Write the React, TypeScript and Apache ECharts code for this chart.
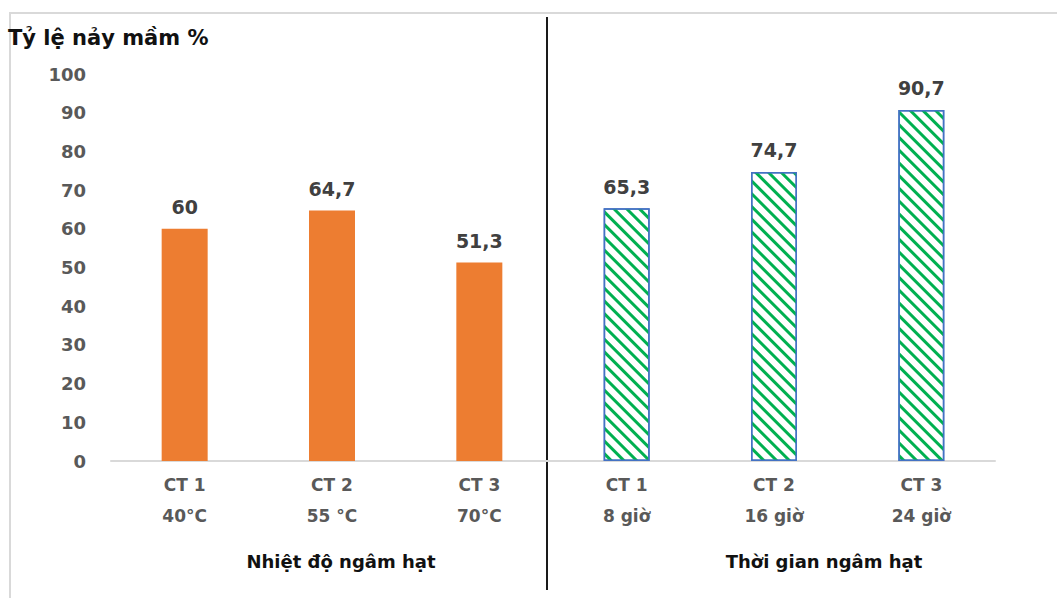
import React, { useEffect, useRef } from "react";
import * as echarts from "echarts";

const categories = ["CT 1\n40°C", "CT 2\n55 °C", "CT 3\n70°C", "CT 1\n8 giờ", "CT 2\n16 giờ", "CT 3\n24 giờ"];
const groupLabels = ["Nhiệt độ ngâm hạt", "Thời gian ngâm hạt"];
const temperatureValues: (number | string)[] = [60, 64.7, 51.3, "-", "-", "-"];
const timeValues: (number | string)[] = ["-", "-", "-", 65.3, 74.7, 90.7];
const yTitle = "Tỷ lệ nảy mầm %";

const FONT = "'DejaVu Sans', sans-serif";

export default function App() {
  const ref = useRef<HTMLDivElement>(null);
  useEffect(() => {
    document.body.style.margin = "0";
    const chart = echarts.init(ref.current!, null, { renderer: "svg" });
    const label = {
      show: true,
      position: "top",
      distance: 12,
      fontFamily: FONT,
      fontWeight: "bold",
      fontSize: 19,
      color: "#404040",
      formatter: (p: any) => String(p.value).replace(".", ","),
    };
    const groupText = (text: string, x: number) => ({
      type: "text",
      x,
      y: 561,
      style: {
        text,
        fontFamily: FONT,
        fontWeight: "bold",
        fontSize: 18,
        fill: "#111",
        align: "center",
        verticalAlign: "middle",
      },
    });
    chart.setOption({
      animation: false,
      backgroundColor: "#fff",
      grid: { left: 111, right: 62, top: 74, bottom: 137, containLabel: false },
      xAxis: {
        type: "category",
        data: categories,
        axisLine: { show: true, lineStyle: { color: "#d9d9d9", width: 2 } },
        axisTick: { show: false },
        axisLabel: {
          interval: 0,
          margin: 8,
          fontFamily: FONT,
          fontWeight: "bold",
          fontSize: 17,
          lineHeight: 31,
          color: "#595959",
        },
      },
      yAxis: {
        type: "value",
        min: 0,
        max: 100,
        interval: 10,
        axisLine: { show: false },
        axisTick: { show: false },
        splitLine: { show: false },
        axisLabel: {
          margin: 25,
          fontFamily: FONT,
          fontWeight: "bold",
          fontSize: 18,
          color: "#595959",
        },
      },
      series: [
        {
          type: "bar",
          data: temperatureValues,
          barWidth: 46,
          barGap: "-100%",
          itemStyle: { color: "#ED7D31" },
          label,
        },
        {
          type: "bar",
          data: timeValues,
          barWidth: 46,
          barGap: "-100%",
          itemStyle: {
            color: "#ffffff",
            borderColor: "#4472C4",
            borderWidth: 1.5,
            decal: {
              symbol: "rect",
              symbolSize: 1,
              color: "#00B050",
              dashArrayX: [1, 0],
              dashArrayY: [3, 6],
              rotation: Math.PI / 4,
            },
          },
          label,
        },
      ],
      graphic: [
        {
          type: "polyline",
          shape: { points: [[10, 598], [10, 13], [1057, 13]] },
          style: { stroke: "#d9d9d9", lineWidth: 2, fill: null },
          silent: true,
        },
        {
          type: "line",
          shape: { x1: 547, y1: 17, x2: 547, y2: 590 },
          style: { stroke: "#1a1a1a", lineWidth: 2 },
          silent: true,
        },
        {
          type: "text",
          left: 8,
          top: 27,
          style: {
            text: yTitle,
            fontFamily: FONT,
            fontWeight: "bold",
            fontSize: 21,
            fill: "#111",
          },
        },
        groupText(groupLabels[0], 341),
        groupText(groupLabels[1], 824),
      ],
    });
    return () => chart.dispose();
  }, []);
  return <div ref={ref} style={{ width: 1057, height: 598 }} />;
}
